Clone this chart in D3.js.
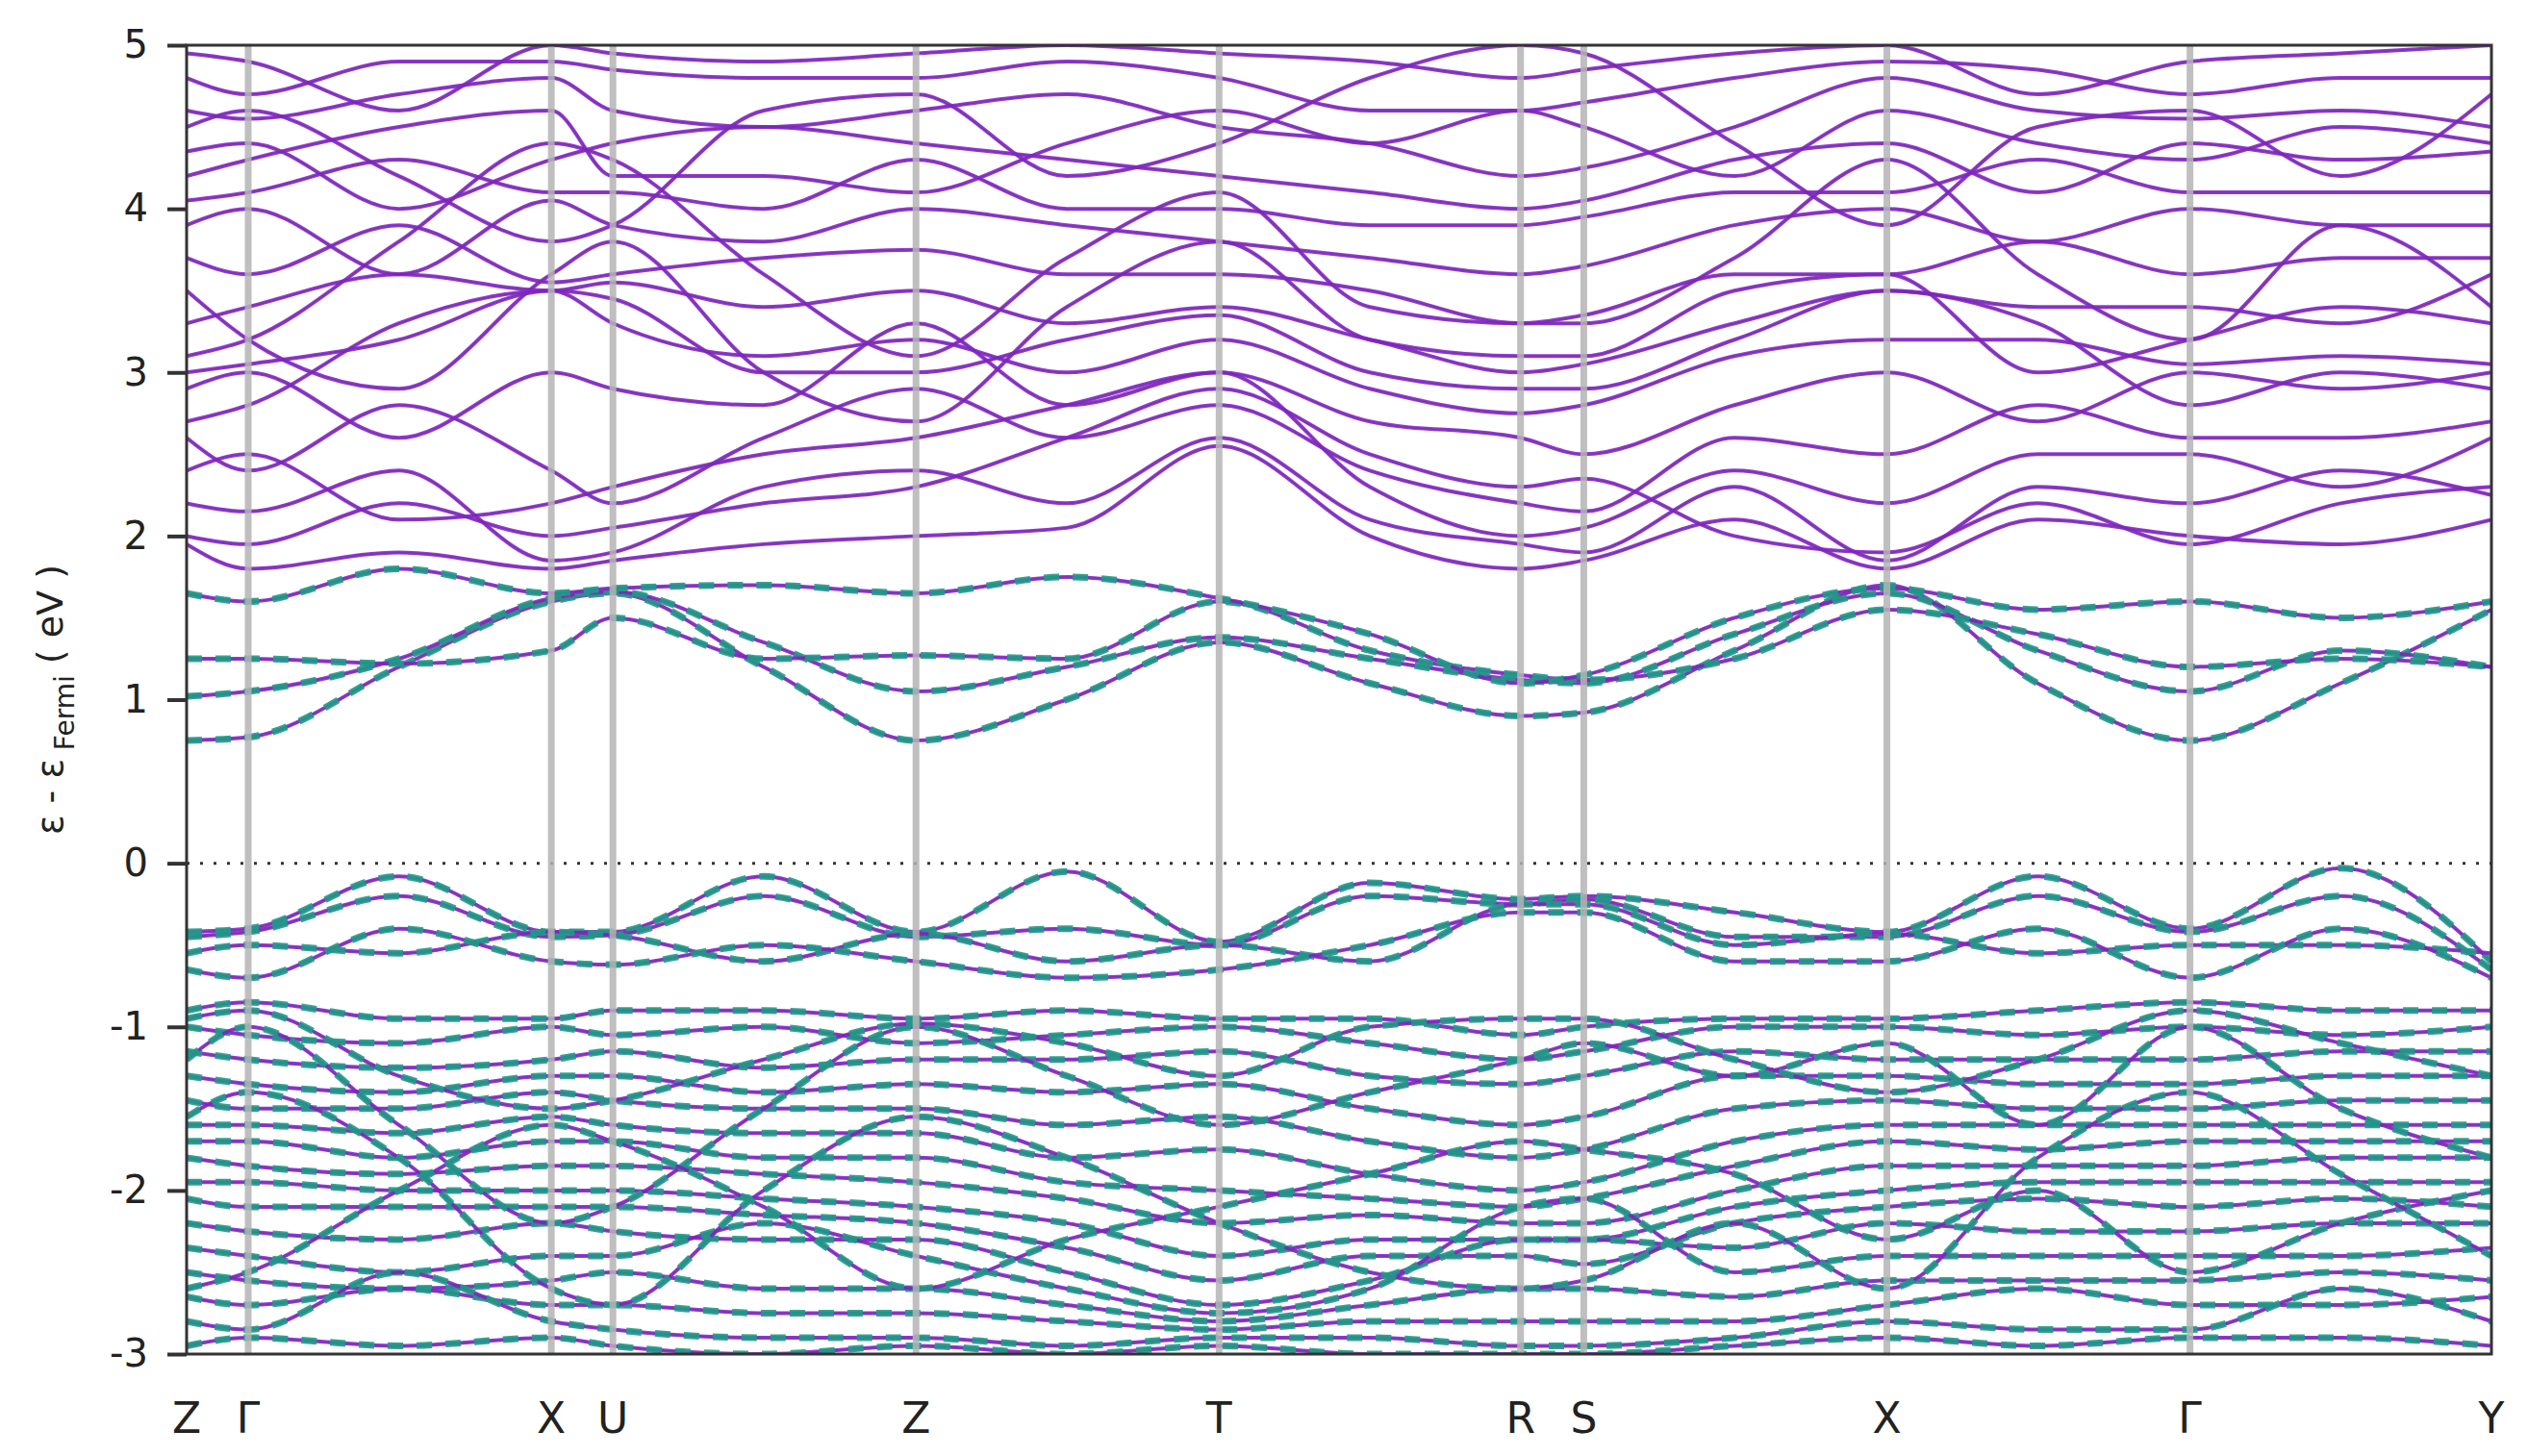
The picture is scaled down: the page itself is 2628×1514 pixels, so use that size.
<!DOCTYPE html>
<html><head><meta charset="utf-8">
<script src="https://cdn.jsdelivr.net/npm/d3@7/dist/d3.min.js"></script>
<style>body{margin:0;background:#fff}</style></head>
<body><svg id="c" width="2628" height="1514"></svg>
<script>
const kPoints=[0,0.38,1.31,2.25,2.63,3.56,4.5,5.43,6.37,7.3,8.23,8.62,9.55,10.49,11.42,12.36,13.29,14.22];
const symPos=[0,0.38,2.25,2.63,4.5,6.37,8.23,8.62,10.49,12.36,14.22];
const symLabels=["Z","Γ","X","U","Z","T","R","S","X","Γ","Y"];
const yTicks=[-3,-2,-1,0,1,2,3,4,5];
const condBands=[
[0.75,0.77,1.2,1.6,1.65,1.2,0.75,1.0,1.35,1.1,0.9,0.92,1.3,1.7,1.1,0.75,1.1,1.55],
[1.02,1.05,1.25,1.62,1.66,1.35,1.05,1.2,1.38,1.25,1.12,1.1,1.4,1.65,1.3,1.05,1.3,1.2],
[1.25,1.25,1.22,1.3,1.5,1.25,1.27,1.25,1.6,1.3,1.15,1.12,1.25,1.55,1.4,1.2,1.25,1.2],
[1.65,1.6,1.8,1.65,1.68,1.7,1.65,1.75,1.62,1.4,1.1,1.15,1.5,1.68,1.55,1.6,1.5,1.6]];
const upperBands=[
[1.95,1.8,1.9,1.8,1.85,1.95,2.0,2.05,2.55,2.0,1.8,1.85,2.1,1.8,2.1,2.0,1.95,2.1],
[2.2,2.15,2.4,1.85,1.9,2.3,2.4,2.2,2.6,2.1,1.95,1.9,2.3,1.85,2.3,2.2,2.4,2.25],
[2.6,2.4,2.8,2.4,2.2,2.6,2.9,2.6,2.8,2.4,2.2,2.15,2.6,2.5,2.8,2.6,2.6,2.7],
[2.9,3.0,2.6,3.0,2.9,2.8,3.3,2.8,3.0,2.7,2.6,2.5,2.8,3.0,2.7,3.0,2.9,3.0],
[3.0,3.05,3.2,3.5,3.3,3.1,3.2,3.0,3.2,2.9,2.75,2.8,3.1,3.2,3.2,3.05,3.1,3.05],
[3.3,3.4,3.6,3.5,3.55,3.4,3.5,3.3,3.4,3.2,3.0,3.05,3.3,3.5,3.4,3.4,3.3,3.6],
[3.7,3.6,3.9,3.55,3.6,3.7,3.75,3.6,3.6,3.5,3.3,3.35,3.6,3.6,3.8,3.6,3.7,3.7],
[3.9,4.0,3.6,4.05,3.9,3.8,4.0,3.9,3.8,3.7,3.6,3.65,3.9,4.0,3.8,4.0,3.9,3.9],
[4.05,4.1,4.3,4.1,4.1,4.0,4.3,4.0,4.0,3.9,3.9,3.95,4.1,4.1,4.3,4.1,4.1,4.1],
[4.35,4.4,4.0,4.3,4.4,4.5,4.4,4.3,4.2,4.1,4.0,4.05,4.3,4.4,4.1,4.4,4.3,4.35],
[4.6,4.55,4.7,4.8,4.6,4.5,4.6,4.7,4.5,4.4,4.2,4.25,4.5,4.8,4.6,4.55,4.6,4.5],
[4.8,4.7,4.9,4.9,4.85,4.8,4.8,4.9,4.8,4.6,4.6,4.65,4.8,4.9,4.85,4.7,4.8,4.8],
[2.4,2.5,2.1,2.2,2.3,2.5,2.6,2.8,3.0,2.3,2.0,2.05,2.4,2.2,2.5,2.5,2.3,2.6],
[3.5,3.2,2.9,3.6,3.8,3.0,2.7,3.4,3.8,3.2,3.1,3.1,3.5,3.6,3.0,3.2,3.4,3.3],
[4.2,4.3,4.5,4.6,4.2,4.2,4.1,4.4,4.6,4.4,4.6,4.5,4.2,4.6,4.4,4.3,4.5,4.4],
[4.95,4.9,4.6,5.0,4.95,4.9,4.95,5.0,4.95,4.9,4.8,4.85,4.95,5.0,4.7,4.9,4.95,5.0],
[2.0,1.95,2.2,2.0,2.05,2.2,2.3,2.6,2.9,2.5,2.3,2.35,2.0,1.9,2.2,1.95,2.2,2.3],
[2.7,2.8,3.3,3.5,3.45,3.0,3.0,3.2,3.35,3.0,2.9,2.9,3.2,3.5,3.3,2.8,3.0,2.9],
[4.5,4.6,4.2,3.8,3.9,4.6,4.7,4.2,4.4,4.8,5.0,4.95,4.4,3.9,4.5,4.6,4.2,4.7],
[3.1,3.2,3.8,4.4,4.3,3.6,3.1,3.7,4.1,3.4,3.3,3.3,3.7,4.3,3.6,3.2,3.9,3.4]];
const valBands=[
[-0.42,-0.4,-0.08,-0.42,-0.42,-0.08,-0.42,-0.05,-0.48,-0.12,-0.22,-0.2,-0.3,-0.42,-0.08,-0.4,-0.03,-0.6],
[-0.45,-0.42,-0.2,-0.45,-0.44,-0.2,-0.45,-0.4,-0.5,-0.2,-0.25,-0.22,-0.45,-0.45,-0.2,-0.42,-0.2,-0.65],
[-0.55,-0.5,-0.55,-0.42,-0.44,-0.6,-0.43,-0.6,-0.5,-0.6,-0.25,-0.25,-0.5,-0.43,-0.55,-0.5,-0.5,-0.55],
[-0.65,-0.7,-0.4,-0.6,-0.62,-0.5,-0.6,-0.7,-0.65,-0.5,-0.3,-0.3,-0.6,-0.6,-0.4,-0.7,-0.4,-0.7]];
const lowBands=[
[-0.9,-0.85,-0.95,-0.95,-0.9,-0.9,-0.95,-0.9,-0.95,-0.95,-1.05,-1.0,-0.95,-0.95,-0.9,-0.85,-0.9,-0.9],
[-1.0,-1.05,-1.1,-1.0,-1.05,-1.0,-1.1,-1.05,-1.0,-1.1,-1.2,-1.15,-1.0,-1.0,-1.05,-1.0,-1.05,-1.0],
[-1.15,-1.2,-1.25,-1.2,-1.15,-1.25,-1.2,-1.2,-1.15,-1.3,-1.35,-1.3,-1.15,-1.2,-1.2,-1.2,-1.15,-1.15],
[-1.3,-1.35,-1.4,-1.3,-1.3,-1.4,-1.35,-1.4,-1.35,-1.5,-1.6,-1.55,-1.3,-1.3,-1.35,-1.35,-1.3,-1.3],
[-1.45,-1.5,-1.5,-1.4,-1.45,-1.5,-1.5,-1.6,-1.55,-1.7,-1.8,-1.75,-1.5,-1.45,-1.5,-1.5,-1.45,-1.45],
[-1.6,-1.6,-1.65,-1.55,-1.6,-1.65,-1.65,-1.8,-1.75,-1.9,-2.0,-1.95,-1.7,-1.6,-1.6,-1.6,-1.6,-1.6],
[-1.7,-1.7,-1.8,-1.7,-1.7,-1.8,-1.8,-1.95,-2.0,-2.05,-2.1,-2.05,-1.85,-1.7,-1.75,-1.7,-1.7,-1.7],
[-1.8,-1.85,-1.9,-1.85,-1.85,-1.9,-1.95,-2.05,-2.2,-2.15,-2.2,-2.2,-2.0,-1.85,-1.85,-1.85,-1.8,-1.8],
[-1.95,-1.95,-2.0,-2.0,-2.0,-2.05,-2.1,-2.2,-2.4,-2.3,-2.3,-2.3,-2.1,-2.0,-1.95,-1.95,-1.95,-1.95],
[-2.05,-2.1,-2.1,-2.1,-2.1,-2.15,-2.2,-2.35,-2.55,-2.4,-2.4,-2.45,-2.2,-2.1,-2.05,-2.1,-2.05,-2.1],
[-2.2,-2.25,-2.3,-2.2,-2.25,-2.3,-2.3,-2.5,-2.7,-2.55,-2.3,-2.3,-2.35,-2.2,-2.25,-2.25,-2.2,-2.2],
[-2.35,-2.4,-2.5,-2.4,-2.4,-2.2,-2.4,-2.6,-2.75,-2.6,-2.1,-2.05,-2.5,-2.4,-2.4,-2.4,-2.4,-2.35],
[-2.5,-2.55,-2.6,-2.55,-2.5,-2.6,-2.6,-2.7,-2.8,-2.7,-2.6,-2.6,-2.65,-2.55,-2.55,-2.55,-2.5,-2.55],
[-2.65,-2.7,-2.6,-2.7,-2.7,-2.75,-2.75,-2.8,-2.85,-2.8,-2.8,-2.8,-2.8,-2.7,-2.6,-2.7,-2.7,-2.65],
[-2.8,-2.85,-2.5,-2.8,-2.85,-2.9,-2.9,-2.95,-2.9,-2.9,-2.95,-2.95,-2.9,-2.8,-2.85,-2.85,-2.6,-2.8],
[-2.95,-2.9,-2.95,-2.9,-2.95,-3.0,-2.95,-3.0,-2.95,-3.0,-3.0,-3.0,-2.95,-2.9,-2.95,-2.9,-2.9,-2.95],
[-1.2,-1.0,-1.6,-2.2,-2.1,-1.5,-1.0,-1.3,-1.6,-1.4,-1.2,-1.1,-1.3,-1.1,-1.6,-1.0,-1.5,-1.8],
[-2.6,-2.5,-2.0,-1.6,-1.7,-2.1,-2.6,-2.3,-2.1,-1.9,-1.7,-1.75,-1.9,-2.3,-2.0,-2.5,-2.2,-2.0],
[-0.95,-0.9,-1.3,-1.5,-1.45,-1.2,-0.98,-1.1,-1.3,-1.0,-0.95,-0.95,-1.2,-1.4,-1.2,-0.9,-1.1,-1.3],
[-1.55,-1.4,-1.8,-2.6,-2.7,-2.0,-1.55,-1.8,-2.2,-2.5,-2.6,-2.55,-2.2,-2.6,-1.8,-1.4,-1.9,-2.4]];

const L=194,R=2590,T=47,B=1408;
const svg=d3.select("#c");
const x=d3.scaleLinear().domain([0,14.22]).range([L,R]);
const y=d3.scaleLinear().domain([-3,5]).range([B,T]);
svg.append("defs").append("clipPath").attr("id","cp").append("rect").attr("x",L).attr("y",T).attr("width",R-L).attr("height",B-T);
const g=svg.append("g").attr("clip-path","url(#cp)");
const line=d3.line().x((d,i)=>x(kPoints[i])).y(d=>y(d)).curve(d3.curveMonotoneX);
const purple="#8a22cc", teal="#1f9a86";
function draw(bands,dashed){
  bands.forEach(b=>{
    g.append("path").attr("d",line(b)).attr("fill","none").attr("stroke",purple).attr("stroke-width",4).attr("stroke-opacity",0.9);
    g.append("path").attr("d",line(b)).attr("fill","none").attr("stroke","#5a3a8a").attr("stroke-width",1.5).attr("stroke-opacity",0.5);
    if(dashed) g.append("path").attr("d",line(b)).attr("fill","none").attr("stroke",teal).attr("stroke-width",7).attr("stroke-dasharray","16,14").attr("stroke-opacity",0.9);
  });
}
draw(upperBands,false);
draw(condBands,true);
draw(valBands,true);
draw(lowBands,true);
g.append("line").attr("x1",L).attr("x2",R).attr("y1",y(0)).attr("y2",y(0)).attr("stroke","#333").attr("stroke-width",3).attr("stroke-dasharray","3,11");
g.selectAll(".sym").data(symPos.slice(1,-1)).join("line").attr("x1",d=>x(d)).attr("x2",d=>x(d)).attr("y1",T).attr("y2",B).attr("stroke","#b4b4b4").attr("stroke-width",7).attr("stroke-opacity",0.85);
svg.append("rect").attr("x",L).attr("y",T).attr("width",R-L).attr("height",B-T).attr("fill","none").attr("stroke","#333").attr("stroke-width",3);
const ya=svg.append("g").attr("transform",`translate(${L},0)`).call(d3.axisLeft(y).tickValues(yTicks).tickSize(20).tickPadding(20).tickFormat(d=>String(d)));
ya.select(".domain").remove();
ya.selectAll("line").attr("stroke","#333").attr("stroke-width",4);
ya.selectAll("text").attr("font-family","DejaVu Sans").attr("font-size",40).attr("fill","#222");
svg.selectAll(".xl").data(symPos).join("text").attr("x",d=>x(d)).attr("y",1490).attr("text-anchor","middle").attr("font-family","DejaVu Sans").attr("font-size",44).attr("fill","#222").text((d,i)=>symLabels[i]);
const yl=svg.append("text").attr("transform",`translate(65,${y(1)}) rotate(-90)`).attr("text-anchor","middle").attr("font-family","DejaVu Sans").attr("font-size",38).attr("fill","#222");
yl.append("tspan").text("ε - ε");
yl.append("tspan").attr("font-size",28).attr("dy",12).text(" Fermi");
yl.append("tspan").attr("dy",-12).text(" ( eV )");
</script></body></html>
